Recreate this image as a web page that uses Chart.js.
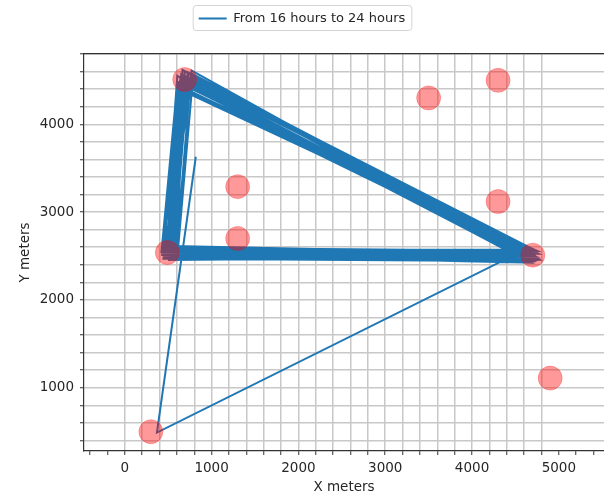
<!DOCTYPE html>
<html>
<head>
<meta charset="utf-8">
<script src="https://cdn.jsdelivr.net/npm/chart.js@4.4.1/dist/chart.umd.min.js"></script>
<style>
  body { margin: 0; background: #fff; }
</style>
</head>
<body>
<canvas id="track" width="604" height="497"></canvas>
<script>
// path of the walker, 16h - 24h (start, then C -> B -> A loops)
const pathX = [818, 370, 4320, 4700, 422, 600,
  4690, 530, 705,  4730, 470, 650,  4640, 565, 735,  4705, 495, 625,  4755, 445, 770,
  4620, 600, 680,  4665, 535, 720,  4765, 455, 605,  4600, 575, 690,  4715, 500, 745,
  4680, 430, 640,  4635, 610, 780,  4740, 510, 665,  4655, 550, 705,  4770, 485, 615,
  4610, 590, 760,  4700, 440, 690,  4690, 535, 725,  4645, 605, 650,  4725, 475, 730,
  4750, 525, 680,  4625, 570, 640,  4715, 460, 785,  4680, 515, 705,  4665, 545, 690,
  4690];
const pathY = [3630, 490, 2430, 2500, 2542, 4411,
  2520, 2550, 4530,  2470, 2490, 4460,  2545, 2590, 4580,  2445, 2520, 4410,  2555, 2470, 4610,
  2500, 2560, 4490,  2430, 2610, 4390,  2525, 2535, 4550,  2460, 2480, 4600,  2570, 2575, 4440,
  2425, 2510, 4520,  2565, 2540, 4475,  2490, 2455, 4620,  2530, 2615, 4400,  2460, 2560, 4480,
  2550, 2505, 4540,  2500, 2585, 4450,  2440, 2470, 4590,  2575, 2545, 4570,  2535, 2600, 4380,
  2475, 2495, 4530,  2515, 2570, 4425,  2455, 2525, 4570,  2560, 2595, 4485,  2495, 2530, 4515,
  2520];

// points of interest
const poiX = [300, 490, 690, 1300, 1300, 3500, 4300, 4300, 4700, 4900];
const poiY = [500, 2540, 4510, 2700, 3290, 4300, 4500, 3120, 2510, 1110];

const majorTicks = [0, 1000, 2000, 3000, 4000, 5000];
const legendLabel = 'From 16 hours to 24 hours';

Chart.defaults.font.family = 'DejaVu Sans';
Chart.defaults.font.size = 13.5;
Chart.defaults.color = '#262626';

const gridGrey = '#c8c8c8';

const isMajor = v => majorTicks.some(m => Math.abs(m - v) < 1e-6);

// minor ticks every 200 between from..to
function minorTicks(from, to) {
  const out = [];
  for (let v = from; v <= to; v += 200) out.push({value: v});
  return out;
}

const legendBox = {
  id: 'legendBox',
  afterDraw(chart) {
    const hb = chart.legend.legendHitBoxes[0];
    if (!hb) return;
    const c = chart.ctx;
    c.save();
    c.strokeStyle = '#d4d4d4';
    c.lineWidth = 1;
    c.beginPath();
    c.roundRect(hb.left - 5.5, hb.top - 6.5, hb.width + 12, hb.height + 12, 3);
    c.stroke();
    c.restore();
  }
};

const ctx = document.getElementById('track').getContext('2d');

const track = new Chart(ctx, {
  type: 'scatter',
  data: {
    datasets: [{
      label: legendLabel,
      data: pathX.map((x, i) => ({x: x, y: pathY[i]})),
      showLine: true,
      borderColor: '#1f77b4',
      backgroundColor: '#1f77b4',
      borderWidth: 2,
      pointRadius: 0,
      tension: 0,
      order: 1
    }, {
      label: 'poi',
      data: poiX.map((x, i) => ({x: x, y: poiY[i]})),
      backgroundColor: 'rgba(255, 0, 0, 0.4)',
      borderColor: 'rgba(255, 0, 0, 0.25)',
      borderWidth: 1,
      pointRadius: 12,
      order: 0
    }]
  },
  options: {
    responsive: false,
    animation: false,
    layout: { padding: 0, autoPadding: false },
    scales: {
      x: {
        type: 'linear',
        min: -470,
        max: 5520,
        afterBuildTicks: s => { s.ticks = minorTicks(-400, 5400); },
        afterFit: s => { s.height = 46; s.paddingRight = 0; s.paddingLeft = 0; },
        ticks: {
          autoSkip: false,
          maxRotation: 0,
          padding: 5,
          callback: v => isMajor(v) ? String(v) : ''
        },
        grid: {
          color: c => (c.tick && c.tick.value >= 0 && c.tick.value <= 4800) ? gridGrey : 'rgba(0,0,0,0)',
          lineWidth: 1.5,
          tickColor: '#333',
          tickLength: 4,
          tickWidth: 1
        },
        border: { color: '#333', width: 1.2 },
        title: { display: true, text: 'X meters', padding: { top: 0, bottom: 1 } }
      },
      xTop: {
        type: 'linear',
        position: 'top',
        min: -470,
        max: 5520,
        afterFit: s => { s.height = 19; },
        ticks: { display: false },
        grid: { drawOnChartArea: false, drawTicks: false },
        border: { color: '#333', width: 1.2 }
      },
      y: {
        type: 'linear',
        min: 280,
        max: 4800,
        afterBuildTicks: s => { s.ticks = minorTicks(400, 4800); },
        afterFit: s => { s.width = 84; },
        ticks: {
          autoSkip: false,
          padding: 6,
          callback: v => isMajor(v) ? String(v) : ''
        },
        grid: {
          color: gridGrey,
          lineWidth: 1.5,
          tickColor: '#333',
          tickLength: 4,
          tickWidth: 1
        },
        border: { color: '#333', width: 1.2 },
        title: { display: true, text: 'Y meters', padding: { top: 17, bottom: 0 } }
      }
    },
    plugins: {
      legend: {
        display: true,
        position: 'top',
        labels: {
          usePointStyle: true,
          pointStyle: 'line',
          pointStyleWidth: 28,
          padding: 12,
          font: { size: 13 },
          filter: item => item.text === legendLabel
        }
      },
      tooltip: { enabled: false }
    }
  },
  plugins: [legendBox]
});
</script>
</body>
</html>
